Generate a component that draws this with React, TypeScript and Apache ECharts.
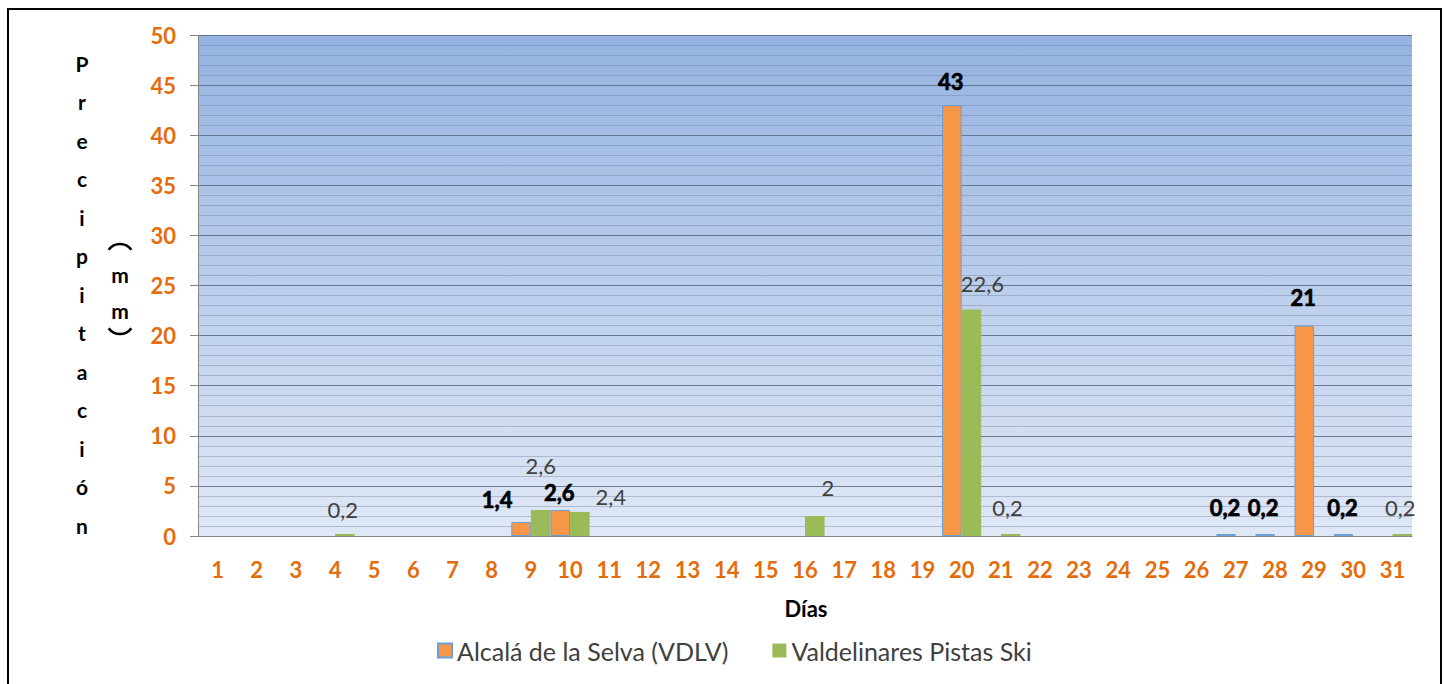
import React, { useEffect, useRef } from "react";
import * as echarts from "echarts";

const days = ["1","2","3","4","5","6","7","8","9","10","11","12","13","14","15","16","17","18","19","20","21","22","23","24","25","26","27","28","29","30","31"];
const alcala = [0,0,0,0,0,0,0,0,1.4,2.6,0,0,0,0,0,0,0,0,0,43,0,0,0,0,0,0,0.2,0.2,21,0.2,0];
const valdelinares = [0,0,0,0.2,0,0,0,0,2.6,2.4,0,0,0,0,0,2,0,0,0,22.6,0.2,0,0,0,0,0,0,0,0,0,0.2];
const seriesNames = ["Alcalá de la Selva (VDLV)", "Valdelinares Pistas Ski"];
const yTitleLetters = ["P","r","e","c","i","p","i","t","a","c","i","ó","n"];
const unitLetters = ["m", "m"];

// label nudges (style only), keyed by category index
const alcalaLabelShift: Record<number, [number, number]> = {
  8: [-24, 4], 9: [-1, 9], 19: [-1, 2], 26: [-1, 0], 27: [-2, 0], 28: [-1, -2], 29: [-1, 0],
};
const valdeLabelShift: Record<number, [number, number]> = {
  3: [-2, 2], 8: [0, -18], 9: [31, 11], 15: [13, -2], 19: [11, 0], 20: [-3, 0], 30: [-2, 0],
};

const fmt = (v: number) => String(v).replace(".", ",");

export default function App() {
  const ref = useRef<HTMLDivElement>(null);
  useEffect(() => {
    document.body.style.margin = "0";
    const chart = echarts.init(ref.current!, null, { renderer: "svg" });
    const build = (vals: number[], shifts: Record<number, [number, number]>, labelStyle: any) =>
      vals.map((v, i) =>
        v === 0
          ? { value: "-" as any }
          : {
              value: v,
              label: {
                show: true,
                position: "top",
                distance: 15,
                offset: shifts[i] || [0, 0],
                formatter: fmt(v),
                ...labelStyle,
              },
            }
      );
    const letterFont = "bold 21px Lato";
    const titleGraphics: any[] = yTitleLetters.map((ch, i) => ({
      type: "text",
      x: 82,
      y: 63 + i * 38.5,
      style: { text: ch, fill: "#000", font: letterFont, align: "center", verticalAlign: "middle" },
    }));
    const unitGraphics: any[] = unitLetters.map((ch, i) => ({
      type: "text",
      x: 120,
      y: 274 + i * 36,
      style: { text: ch, fill: "#000", font: letterFont, align: "center", verticalAlign: "middle" },
    }));
    chart.setOption({
      animation: false,
      textStyle: { fontFamily: "Lato" },
      grid: {
        left: 198,
        right: 33,
        top: 35,
        bottom: 148,
        show: true,
        borderWidth: 0,
        backgroundColor: {
          type: "linear", x: 0, y: 0, x2: 0, y2: 1,
          colorStops: [
            { offset: 0, color: "#95b3e1" },
            { offset: 1, color: "#e0e8f6" },
          ],
        },
      },
      legend: {
        left: 432,
        top: 633,
        itemWidth: 14,
        itemHeight: 14,
        itemGap: 44,
        icon: "rect",
        textStyle: { fontSize: 25, color: "#404040", fontFamily: "Lato" },
        data: seriesNames,
      },
      xAxis: {
        type: "category",
        data: days,
        axisLine: { lineStyle: { color: "#868686" } },
        axisTick: { show: false },
        axisLabel: { color: "#e46c0a", fontWeight: "bold", fontSize: 22, margin: 22, interval: 0 },
      },
      yAxis: {
        type: "value",
        min: 0,
        max: 50,
        interval: 5,
        axisLine: { show: true, lineStyle: { color: "#868686" } },
        axisTick: { show: true, length: 8, lineStyle: { color: "#868686" } },
        axisLabel: { color: "#e46c0a", fontWeight: "bold", fontSize: 22, margin: 22 },
        splitLine: { lineStyle: { color: "rgba(90,105,130,0.85)", width: 1 } },
        minorTick: { show: false, splitNumber: 5 },
        minorSplitLine: { show: true, lineStyle: { color: "rgba(110,125,150,0.4)", width: 1 } },
      },
      series: [
        {
          name: seriesNames[0],
          type: "bar",
          barGap: "0%",
          barCategoryGap: "0%",
          itemStyle: { color: "#f79646", borderColor: "#6a9fd8", borderWidth: 1 },
          data: build(alcala, alcalaLabelShift, {
            color: "#000",
            fontWeight: "bold",
            fontSize: 22,
            textBorderColor: "#000",
            textBorderWidth: 0.7,
          }),
        },
        {
          name: seriesNames[1],
          type: "bar",
          barGap: "0%",
          barCategoryGap: "0%",
          itemStyle: { color: "#9bbb59" },
          data: build(valdelinares, valdeLabelShift, {
            color: "#404040",
            fontSize: 22,
          }),
        },
      ],
      graphic: [
        {
          type: "rect",
          shape: { x: 8, y: 9, width: 1433, height: 700 },
          style: { fill: "none", stroke: "#000", lineWidth: 2 },
          silent: true,
        },
        ...titleGraphics,
        ...unitGraphics,
        {
          type: "arc",
          shape: { cx: 120, cy: 258, r: 14, startAngle: Math.PI * 1.2, endAngle: Math.PI * 1.8, clockwise: true },
          style: { stroke: "#000", lineWidth: 2.5, fill: "none" },
        },
        {
          type: "arc",
          shape: { cx: 120, cy: 320, r: 14, startAngle: Math.PI * 0.2, endAngle: Math.PI * 0.8, clockwise: true },
          style: { stroke: "#000", lineWidth: 2.5, fill: "none" },
        },
        {
          type: "text", x: 806, y: 608,
          style: { text: "Días", fill: "#000", font: "bold 22px Lato", align: "center", verticalAlign: "middle" },
        },
      ],
    });
    return () => chart.dispose();
  }, []);
  return <div ref={ref} style={{ width: 1445, height: 684 }} />;
}
